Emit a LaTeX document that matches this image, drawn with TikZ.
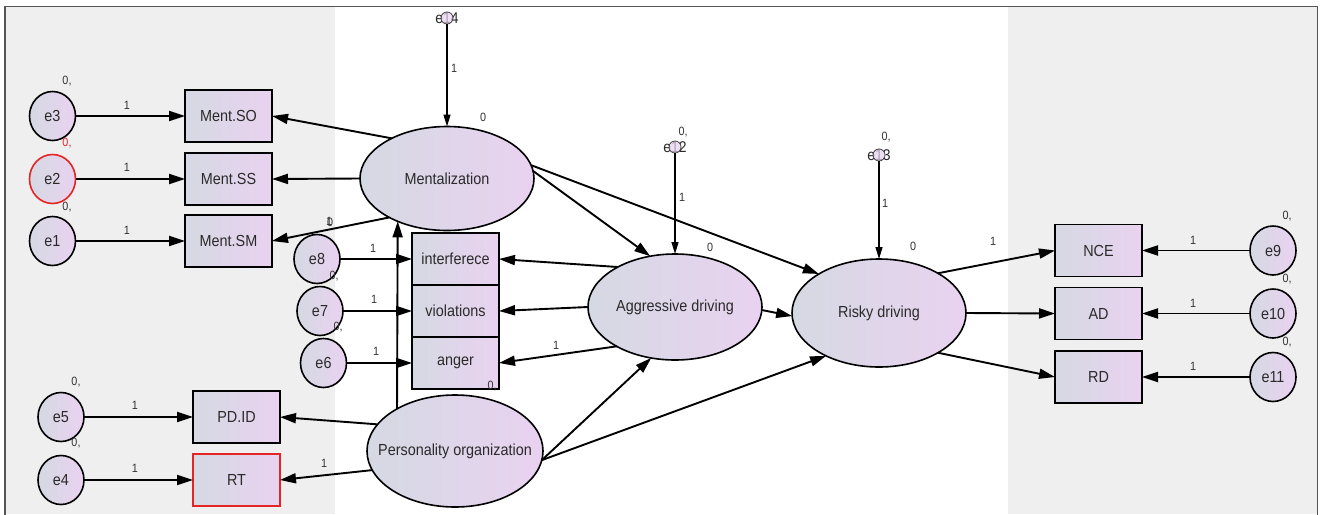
\documentclass[tikz,border=0pt]{standalone}
\usepackage{fontspec}
\setmainfont[FakeStretch=0.9]{Liberation Sans}
\usetikzlibrary{arrows.meta,shapes.geometric}
\definecolor{panel}{HTML}{EFEFEF}
\definecolor{shL}{HTML}{D5D9E3}
\definecolor{shR}{HTML}{E9D2F0}
\definecolor{framec}{HTML}{555555}
\definecolor{txt}{HTML}{2A2A2A}
\definecolor{numc}{HTML}{333333}
\definecolor{redc}{HTML}{E52424}
\begin{document}
\begin{tikzpicture}[x=1pt,y=-1pt,
  lbl/.style={font=\fontsize{16}{18}\selectfont, text=txt},
  obs/.style={lbl, draw=black, line width=1.6pt, rectangle, minimum width=87pt, minimum height=52pt, inner sep=0pt, outer sep=0pt, left color=shL, right color=shR},
  err/.style={lbl, draw=black, line width=1.6pt, ellipse, minimum width=46pt, minimum height=49pt, inner sep=0pt, outer sep=0pt, left color=shL, right color=shR},
  lat/.style={lbl, draw=black, line width=1.6pt, ellipse, inner sep=0pt, outer sep=0pt, left color=shL, right color=shR},
  res/.style={draw=black!75, line width=0.8pt, circle, minimum size=12pt, inner sep=0pt, outer sep=0pt, fill=shR, fill opacity=0.7},
  restxt/.style={font=\fontsize{15.5}{17}\selectfont, text=txt, inner sep=0pt},
  arr/.style={line width=1.9pt, draw=black, -{Triangle[length=16pt,width=10pt]}},
  resarr/.style={line width=1.3pt, draw=black, -{Triangle[length=12pt,width=7pt]}},
  num/.style={font=\fontsize{12}{13}\selectfont, text=numc, inner sep=0pt},
  rnum/.style={num, text=redc}
]
\useasboundingbox (0,0) rectangle (1321,514);
% background panels
\fill[panel] (5,6.5) rectangle (335,514);
\fill[white] (335,6.5) rectangle (1008,514);
\fill[panel] (1008,6.5) rectangle (1317.5,514);
\draw[framec, line width=1.5pt] (5,530) -- (5,6.5) -- (1317.5,6.5) -- (1317.5,530);

% latent variables
\node[lat, minimum width=174pt, minimum height=104pt] (ment) at (447,178.5) {\makebox[0pt]{Mentalization}};
\node[lat, minimum width=176pt, minimum height=112pt] (pers) at (455,451) {\makebox[0pt]{Personality organization}};
\node[lat, minimum width=174pt, minimum height=106pt] (agg) at (675,307) {\makebox[0pt]{Aggressive driving}};
\node[lat, minimum width=174pt, minimum height=108pt] (risky) at (879,313) {\makebox[0pt]{Risky driving}};

% observed variables
\node[obs] (mso) at (228.5,116) {Ment.SO};
\node[obs] (mss) at (228.5,179) {Ment.SS};
\node[obs] (msm) at (228.5,241) {Ment.SM};
\node[obs] (inter) at (455.5,259) {interferece};
\node[obs] (viol) at (455.5,311) {violations};
\node[obs] (anger) at (455.5,363) {anger};
\node[obs] (pdid) at (236.5,417) {PD.ID};
\node[obs, draw=redc] (rt) at (236.5,480) {RT};
\node[obs] (nce) at (1098.5,250.5) {NCE};
\node[obs] (ad) at (1098.5,313.5) {AD};
\node[obs] (rd) at (1098.5,377) {RD};

% error terms
\node[err] (e3) at (52.5,116) {e3};
\node[err, draw=redc] (e2) at (52.5,179) {e2};
\node[err] (e1) at (52.5,241) {e1};
\node[err] (e8) at (317,259) {e8};
\node[err] (e7) at (320,311) {e7};
\node[err] (e6) at (323.5,363) {e6};
\node[err] (e5) at (61,417) {e5};
\node[err] (e4) at (61,480) {e4};
\node[err] (e9) at (1273,250.5) {e9};
\node[err] (e10) at (1273,313.5) {e10};
\node[err] (e11) at (1273,377) {e11};

% residuals of latent variables
\node[restxt] (e14t) at (447,18) {e14};
\node[res] (e14) at (447,18) {};
\node[restxt] (e12t) at (675,147) {e12};
\node[res] (e12) at (675,147) {};
\node[restxt] (e13t) at (879,155) {e13};
\node[res] (e13) at (879,155) {};

% error -> indicator
\draw[arr] (e3) -- (mso);
\draw[arr] (e2) -- (mss);
\draw[arr] (e1) -- (msm);
\draw[arr] (e8) -- (inter);
\draw[arr] (e7) -- (viol);
\draw[arr] (e6) -- (anger);
\draw[arr] (e5) -- (pdid);
\draw[arr] (e4) -- (rt);
\draw[arr] (e9) -- (nce);
\draw[arr] (e10) -- (ad);
\draw[arr] (e11) -- (rd);

% latent -> indicators
\draw[arr] (ment.144) -- (mso.east);
\draw[arr] (ment.180) -- (mss.east);
\draw[arr] (ment.214) -- (msm.east);
\draw[arr] (agg.145) -- (inter.east);
\draw[arr] (agg.180) -- (viol.east);
\draw[arr] (agg.214) -- (anger.east);
\draw[arr] (pers.161) -- (pdid.east);
\draw[arr] (pers.193) -- (rt.east);
\draw[arr] (risky.34) -- (nce.west);
\draw[arr] (risky.0) -- (ad.west);
\draw[arr] (risky.326) -- (rd.west);

% structural paths
\draw[arr] (pers.144) -- (ment.221);
\draw[arr] (ment.5) -- (agg.116);
\draw[arr] (ment.9) -- (risky.147);
\draw[arr] (pers.354) -- (agg.245);
\draw[arr] (pers.354) -- (risky.219);
\draw[arr] (agg.358) -- (risky.182);

% residual arrows
\draw[resarr] (e14) -- (ment.north);
\draw[resarr] (e12) -- (agg.north);
\draw[resarr] (e13) -- (risky.north);

% numbers
\node[num] (n1) at (67,81) {0,};
\node[rnum] (n2) at (67,143) {0,};
\node[num] (n3) at (67,207) {0,};
\node[num] (n4) at (127,105) {1};
\node[num] (n5) at (127,167) {1};
\node[num] (n6) at (127,230) {1};
\node[num] (n7) at (454,68) {1};
\node[num] (n8) at (483,117) {0};
\node[num] (n9) at (329,221) {1};
\node[num] (n10) at (330,222) {0};
\node[num] (n11) at (373,248) {1};
\node[num] (n12) at (374,299) {1};
\node[num] (n13) at (376,351) {1};
\node[num] (n14) at (334,276) {0,};
\node[num] (n15) at (338,327) {0,};
\node[num] (n16) at (492,386) {0,};
\node[num] (n17) at (556,345) {1};
\node[num] (n18) at (683,132) {0,};
\node[num] (n19) at (682,197) {1};
\node[num] (n20) at (710,247) {0};
\node[num] (n21) at (886,137) {0,};
\node[num] (n22) at (885,203) {1};
\node[num] (n23) at (913,246) {0};
\node[num] (n24) at (993,241) {1};
\node[num] (n25) at (1193,240) {1};
\node[num] (n26) at (1193,303) {1};
\node[num] (n27) at (1193,366) {1};
\node[num] (n28) at (1287,216) {0,};
\node[num] (n29) at (1287,279) {0,};
\node[num] (n30) at (1287,342) {0,};
\node[num] (n31) at (76,382) {0,};
\node[num] (n32) at (76,443) {0,};
\node[num] (n33) at (135,405) {1};
\node[num] (n34) at (135,468) {1};
\node[num] (n35) at (324,463) {1};
\end{tikzpicture}
\end{document}
